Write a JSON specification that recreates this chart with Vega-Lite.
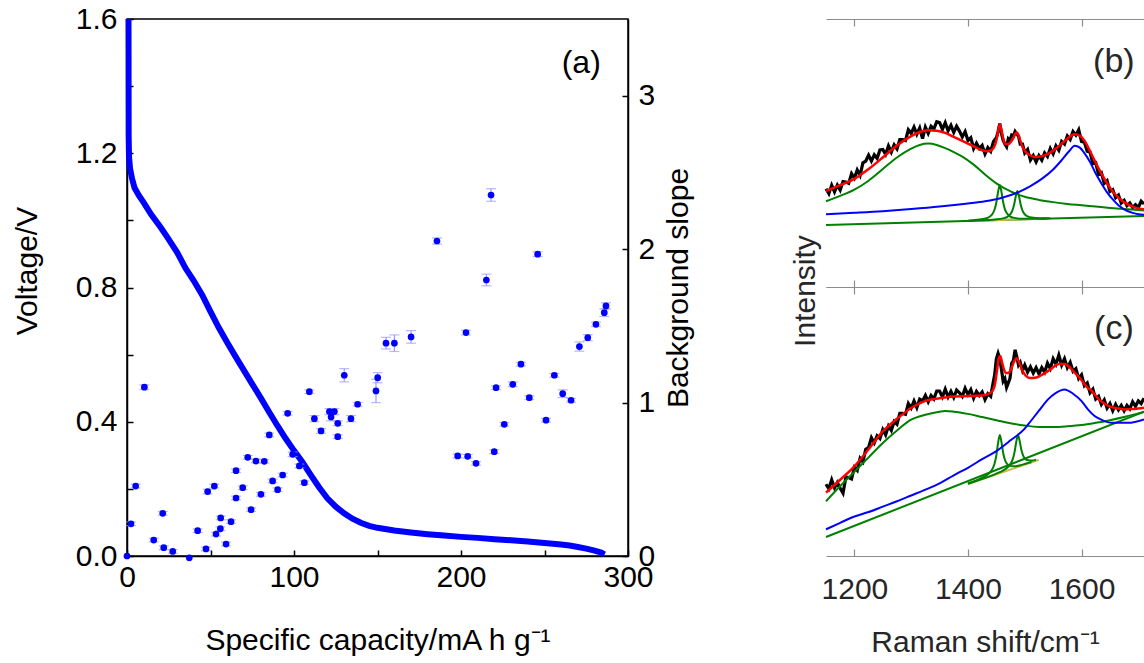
{
"$schema":"https://vega.github.io/schema/vega-lite/v6.json",
"padding":{"left":12,"top":3,"right":0,"bottom":5},
"bounds":"flush",
"spacing":198,
"datasets":{
"volt":[{"cap":0.9,"V":1.6},{"cap":1,"V":1.25},{"cap":1.2,"V":1.19},{"cap":1.8,"V":1.155},{"cap":3,"V":1.125},{"cap":4.5,"V":1.097},{"cap":7,"V":1.075},{"cap":10,"V":1.053},{"cap":14.4,"V":1.018},{"cap":20,"V":0.98},{"cap":24.4,"V":0.948},{"cap":30,"V":0.905},{"cap":35,"V":0.858},{"cap":40,"V":0.82},{"cap":45,"V":0.778},{"cap":50,"V":0.728},{"cap":55,"V":0.68},{"cap":60,"V":0.636},{"cap":65,"V":0.594},{"cap":70,"V":0.553},{"cap":75,"V":0.512},{"cap":80,"V":0.472},{"cap":85,"V":0.43},{"cap":90,"V":0.389},{"cap":95,"V":0.35},{"cap":100,"V":0.314},{"cap":105,"V":0.28},{"cap":110,"V":0.242},{"cap":115,"V":0.205},{"cap":120,"V":0.172},{"cap":125,"V":0.147},{"cap":130,"V":0.127},{"cap":135,"V":0.111},{"cap":140,"V":0.099},{"cap":145,"V":0.09},{"cap":150,"V":0.084},{"cap":160,"V":0.076},{"cap":170,"V":0.07},{"cap":180,"V":0.065},{"cap":190,"V":0.061},{"cap":200,"V":0.057},{"cap":210,"V":0.054},{"cap":220,"V":0.05},{"cap":230,"V":0.047},{"cap":240,"V":0.043},{"cap":250,"V":0.039},{"cap":260,"V":0.034},{"cap":265,"V":0.031},{"cap":270,"V":0.027},{"cap":275,"V":0.022},{"cap":280,"V":0.016},{"cap":284,"V":0.01},{"cap":286,"V":0.005}],
"slope":[{"cap":0,"s":0,"err":0},{"cap":2.4,"s":0.21,"err":0.012},{"cap":5.2,"s":0.456,"err":0.012},{"cap":10.4,"s":1.1,"err":0.015},{"cap":16,"s":0.104,"err":0.012},{"cap":21.4,"s":0.278,"err":0.012},{"cap":22,"s":0.054,"err":0.012},{"cap":27.4,"s":0.03,"err":0.012},{"cap":37.3,"s":-0.012,"err":0},{"cap":42.3,"s":0.165,"err":0.012},{"cap":47.3,"s":0.046,"err":0.012},{"cap":48.3,"s":0.42,"err":0.015},{"cap":52.3,"s":0.456,"err":0.012},{"cap":53.3,"s":0.143,"err":0.012},{"cap":55.9,"s":0.178,"err":0.012},{"cap":56.1,"s":0.248,"err":0.012},{"cap":59.3,"s":0.078,"err":0.012},{"cap":62.3,"s":0.224,"err":0.012},{"cap":65.3,"s":0.556,"err":0.012},{"cap":65.3,"s":0.378,"err":0.012},{"cap":69.3,"s":0.445,"err":0.012},{"cap":72.3,"s":0.643,"err":0.012},{"cap":74.3,"s":0.302,"err":0.012},{"cap":77.2,"s":0.619,"err":0.012},{"cap":80.2,"s":0.402,"err":0.012},{"cap":82.2,"s":0.617,"err":0.012},{"cap":85.2,"s":0.789,"err":0.012},{"cap":87.2,"s":0.489,"err":0.012},{"cap":90.2,"s":0.432,"err":0.012},{"cap":93.2,"s":0.528,"err":0.012},{"cap":96.2,"s":0.93,"err":0.012},{"cap":99.2,"s":0.663,"err":0.015},{"cap":103.2,"s":0.587,"err":0.012},{"cap":106.2,"s":0.478,"err":0.012},{"cap":109.2,"s":1.071,"err":0.012},{"cap":112.2,"s":0.895,"err":0.02},{"cap":116.2,"s":0.815,"err":0.015},{"cap":121.2,"s":0.941,"err":0.02},{"cap":122.2,"s":0.906,"err":0.025},{"cap":124.2,"s":0.941,"err":0.02},{"cap":126.2,"s":0.865,"err":0.015},{"cap":126.2,"s":0.778,"err":0.012},{"cap":130.1,"s":1.178,"err":0.043},{"cap":134.1,"s":0.895,"err":0.02},{"cap":138.1,"s":0.989,"err":0.012},{"cap":149.1,"s":1.076,"err":0.076},{"cap":150.1,"s":1.162,"err":0.033},{"cap":155.1,"s":1.387,"err":0.038},{"cap":160.1,"s":1.387,"err":0.054},{"cap":170.1,"s":1.428,"err":0.041},{"cap":185.6,"s":2.053,"err":0.02},{"cap":198,"s":0.652,"err":0.012},{"cap":203,"s":1.456,"err":0.015},{"cap":204,"s":0.65,"err":0.012},{"cap":209,"s":0.604,"err":0.012},{"cap":215.2,"s":1.799,"err":0.038},{"cap":218,"s":2.353,"err":0.041},{"cap":219.9,"s":0.68,"err":0.012},{"cap":221,"s":1.097,"err":0.012},{"cap":225.9,"s":0.858,"err":0.012},{"cap":231,"s":1.119,"err":0.015},{"cap":235.9,"s":1.25,"err":0.012},{"cap":240.9,"s":1.032,"err":0.012},{"cap":245.9,"s":1.967,"err":0.015},{"cap":250.9,"s":0.885,"err":0.012},{"cap":255.9,"s":1.178,"err":0.012},{"cap":260.9,"s":1.058,"err":0.025},{"cap":265.9,"s":1.015,"err":0.012},{"cap":270.9,"s":1.365,"err":0.03},{"cap":275.9,"s":1.423,"err":0.02},{"cap":280.8,"s":1.51,"err":0.015},{"cap":285.8,"s":1.586,"err":0.025},{"cap":286.8,"s":1.63,"err":0.02}],
"bData":[{"w":1150,"v":1.1},{"w":1155,"v":1.045},{"w":1160,"v":1.14},{"w":1165,"v":1.065},{"w":1170,"v":1.14},{"w":1175,"v":1.085},{"w":1180,"v":1.18},{"w":1185,"v":1.175},{"w":1190,"v":1.16},{"w":1195,"v":1.27},{"w":1200,"v":1.22},{"w":1205,"v":1.31},{"w":1210,"v":1.25},{"w":1215,"v":1.39},{"w":1220,"v":1.41},{"w":1225,"v":1.475},{"w":1230,"v":1.41},{"w":1235,"v":1.48},{"w":1240,"v":1.44},{"w":1245,"v":1.535},{"w":1250,"v":1.54},{"w":1255,"v":1.485},{"w":1260,"v":1.58},{"w":1265,"v":1.51},{"w":1270,"v":1.59},{"w":1275,"v":1.545},{"w":1280,"v":1.65},{"w":1285,"v":1.65},{"w":1290,"v":1.64},{"w":1295,"v":1.76},{"w":1300,"v":1.72},{"w":1305,"v":1.79},{"w":1310,"v":1.71},{"w":1315,"v":1.78},{"w":1320,"v":1.66},{"w":1325,"v":1.79},{"w":1330,"v":1.72},{"w":1335,"v":1.8},{"w":1340,"v":1.77},{"w":1345,"v":1.85},{"w":1350,"v":1.84},{"w":1355,"v":1.765},{"w":1360,"v":1.84},{"w":1365,"v":1.75},{"w":1370,"v":1.81},{"w":1375,"v":1.73},{"w":1380,"v":1.8},{"w":1385,"v":1.745},{"w":1390,"v":1.68},{"w":1395,"v":1.74},{"w":1400,"v":1.64},{"w":1405,"v":1.67},{"w":1410,"v":1.55},{"w":1415,"v":1.61},{"w":1420,"v":1.55},{"w":1425,"v":1.585},{"w":1430,"v":1.49},{"w":1435,"v":1.56},{"w":1440,"v":1.52},{"w":1445,"v":1.63},{"w":1450,"v":1.67},{"w":1453,"v":1.74},{"w":1456,"v":1.83},{"w":1459,"v":1.72},{"w":1462,"v":1.64},{"w":1465,"v":1.6},{"w":1468,"v":1.57},{"w":1471,"v":1.66},{"w":1474,"v":1.64},{"w":1477,"v":1.7},{"w":1480,"v":1.69},{"w":1483,"v":1.74},{"w":1486,"v":1.71},{"w":1489,"v":1.69},{"w":1492,"v":1.6},{"w":1496,"v":1.6},{"w":1500,"v":1.5},{"w":1505,"v":1.54},{"w":1510,"v":1.42},{"w":1515,"v":1.47},{"w":1520,"v":1.4},{"w":1525,"v":1.47},{"w":1530,"v":1.42},{"w":1535,"v":1.5},{"w":1540,"v":1.46},{"w":1545,"v":1.55},{"w":1550,"v":1.49},{"w":1555,"v":1.58},{"w":1560,"v":1.53},{"w":1565,"v":1.63},{"w":1570,"v":1.6},{"w":1575,"v":1.69},{"w":1580,"v":1.65},{"w":1585,"v":1.74},{"w":1590,"v":1.7},{"w":1595,"v":1.76},{"w":1600,"v":1.63},{"w":1605,"v":1.62},{"w":1610,"v":1.52},{"w":1615,"v":1.51},{"w":1620,"v":1.38},{"w":1625,"v":1.39},{"w":1630,"v":1.26},{"w":1635,"v":1.28},{"w":1640,"v":1.16},{"w":1645,"v":1.19},{"w":1650,"v":1.07},{"w":1655,"v":1.09},{"w":1660,"v":1.0},{"w":1665,"v":1.03},{"w":1670,"v":0.94},{"w":1675,"v":0.97},{"w":1680,"v":0.91},{"w":1685,"v":0.94},{"w":1690,"v":0.89},{"w":1695,"v":0.92},{"w":1700,"v":0.89},{"w":1705,"v":0.96},{"w":1710,"v":0.93}],
"bLin":[{"w":1150,"v":0.694},{"w":1710,"v":0.796}],
"bYel":[{"w":1410,"v":0.741},{"w":1530,"v":0.763}],
"bD":[{"w":1150,"v":0.96},{"w":1175,"v":1.02},{"w":1200,"v":1.09},{"w":1225,"v":1.19},{"w":1250,"v":1.32},{"w":1275,"v":1.45},{"w":1300,"v":1.55},{"w":1315,"v":1.59},{"w":1330,"v":1.605},{"w":1345,"v":1.59},{"w":1360,"v":1.555},{"w":1375,"v":1.51},{"w":1390,"v":1.46},{"w":1410,"v":1.37},{"w":1430,"v":1.26},{"w":1450,"v":1.16},{"w":1475,"v":1.07},{"w":1500,"v":1.01},{"w":1525,"v":0.975},{"w":1550,"v":0.95},{"w":1575,"v":0.93},{"w":1600,"v":0.915},{"w":1625,"v":0.9},{"w":1650,"v":0.885},{"w":1675,"v":0.872},{"w":1700,"v":0.861},{"w":1710,"v":0.857}],
"bP":[{"s":"p1","w":1400,"v":0.741},{"s":"p1","w":1416,"v":0.752},{"s":"p1","w":1431,"v":0.767},{"s":"p1","w":1438,"v":0.786},{"s":"p1","w":1444,"v":0.827},{"s":"p1","w":1447,"v":0.87},{"s":"p1","w":1450,"v":0.946},{"s":"p1","w":1453,"v":1.063},{"s":"p1","w":1456,"v":1.143},{"s":"p1","w":1459,"v":1.064},{"s":"p1","w":1462,"v":0.948},{"s":"p1","w":1465,"v":0.872},{"s":"p1","w":1468,"v":0.83},{"s":"p1","w":1474,"v":0.791},{"s":"p1","w":1481,"v":0.774},{"s":"p1","w":1496,"v":0.764},{"s":"p1","w":1526,"v":0.765},{"s":"p1","w":1540,"v":0.768},{"s":"p2","w":1400,"v":0.74},{"s":"p2","w":1417,"v":0.745},{"s":"p2","w":1447,"v":0.756},{"s":"p2","w":1462,"v":0.768},{"s":"p2","w":1469,"v":0.785},{"s":"p2","w":1475,"v":0.818},{"s":"p2","w":1478,"v":0.853},{"s":"p2","w":1481,"v":0.914},{"s":"p2","w":1484,"v":1.011},{"s":"p2","w":1487,"v":1.075},{"s":"p2","w":1490,"v":1.012},{"s":"p2","w":1493,"v":0.917},{"s":"p2","w":1496,"v":0.856},{"s":"p2","w":1499,"v":0.822},{"s":"p2","w":1505,"v":0.791},{"s":"p2","w":1512,"v":0.777},{"s":"p2","w":1527,"v":0.77},{"s":"p2","w":1545,"v":0.77}],
"bG":[{"w":1150,"v":0.814},{"w":1200,"v":0.83},{"w":1250,"v":0.848},{"w":1300,"v":0.872},{"w":1350,"v":0.9},{"w":1400,"v":0.935},{"w":1430,"v":0.96},{"w":1460,"v":1.0},{"w":1490,"v":1.065},{"w":1510,"v":1.13},{"w":1530,"v":1.21},{"w":1550,"v":1.315},{"w":1565,"v":1.42},{"w":1578,"v":1.52},{"w":1588,"v":1.58},{"w":1597,"v":1.56},{"w":1606,"v":1.49},{"w":1615,"v":1.4},{"w":1625,"v":1.27},{"w":1635,"v":1.16},{"w":1645,"v":1.06},{"w":1655,"v":0.98},{"w":1665,"v":0.915},{"w":1675,"v":0.87},{"w":1690,"v":0.83},{"w":1700,"v":0.815},{"w":1710,"v":0.81}],
"bFit":[{"w":1150,"v":1.075},{"w":1175,"v":1.14},{"w":1200,"v":1.21},{"w":1225,"v":1.32},{"w":1250,"v":1.45},{"w":1275,"v":1.585},{"w":1300,"v":1.69},{"w":1315,"v":1.735},{"w":1330,"v":1.755},{"w":1345,"v":1.75},{"w":1360,"v":1.725},{"w":1375,"v":1.68},{"w":1390,"v":1.635},{"w":1410,"v":1.575},{"w":1425,"v":1.53},{"w":1435,"v":1.52},{"w":1442,"v":1.535},{"w":1447,"v":1.58},{"w":1450,"v":1.64},{"w":1453,"v":1.74},{"w":1456,"v":1.82},{"w":1459,"v":1.76},{"w":1462,"v":1.66},{"w":1466,"v":1.6},{"w":1471,"v":1.6},{"w":1476,"v":1.63},{"w":1480,"v":1.67},{"w":1483,"v":1.71},{"w":1486,"v":1.73},{"w":1489,"v":1.7},{"w":1492,"v":1.64},{"w":1496,"v":1.57},{"w":1500,"v":1.525},{"w":1508,"v":1.48},{"w":1518,"v":1.456},{"w":1530,"v":1.465},{"w":1545,"v":1.505},{"w":1560,"v":1.575},{"w":1575,"v":1.66},{"w":1588,"v":1.71},{"w":1598,"v":1.69},{"w":1606,"v":1.63},{"w":1615,"v":1.52},{"w":1625,"v":1.39},{"w":1635,"v":1.27},{"w":1645,"v":1.16},{"w":1655,"v":1.07},{"w":1665,"v":1.0},{"w":1675,"v":0.95},{"w":1690,"v":0.9},{"w":1700,"v":0.88},{"w":1710,"v":0.87}],
"cData":[{"w":1150,"v":0.8},{"w":1155,"v":0.75},{"w":1160,"v":0.85},{"w":1165,"v":0.76},{"w":1170,"v":0.82},{"w":1175,"v":0.755},{"w":1180,"v":0.7},{"w":1185,"v":0.88},{"w":1190,"v":0.875},{"w":1195,"v":0.86},{"w":1200,"v":0.99},{"w":1205,"v":0.955},{"w":1210,"v":1.09},{"w":1215,"v":1.05},{"w":1220,"v":1.19},{"w":1225,"v":1.21},{"w":1230,"v":1.32},{"w":1235,"v":1.26},{"w":1240,"v":1.34},{"w":1245,"v":1.31},{"w":1250,"v":1.41},{"w":1255,"v":1.35},{"w":1260,"v":1.45},{"w":1265,"v":1.4},{"w":1270,"v":1.5},{"w":1275,"v":1.47},{"w":1280,"v":1.59},{"w":1285,"v":1.59},{"w":1290,"v":1.58},{"w":1295,"v":1.7},{"w":1300,"v":1.65},{"w":1305,"v":1.73},{"w":1310,"v":1.655},{"w":1315,"v":1.75},{"w":1320,"v":1.73},{"w":1325,"v":1.79},{"w":1330,"v":1.72},{"w":1335,"v":1.79},{"w":1340,"v":1.75},{"w":1345,"v":1.84},{"w":1350,"v":1.84},{"w":1355,"v":1.775},{"w":1360,"v":1.86},{"w":1365,"v":1.773},{"w":1370,"v":1.835},{"w":1375,"v":1.768},{"w":1380,"v":1.85},{"w":1385,"v":1.82},{"w":1390,"v":1.78},{"w":1395,"v":1.87},{"w":1400,"v":1.8},{"w":1405,"v":1.855},{"w":1410,"v":1.76},{"w":1415,"v":1.835},{"w":1420,"v":1.79},{"w":1425,"v":1.83},{"w":1430,"v":1.744},{"w":1435,"v":1.81},{"w":1440,"v":1.78},{"w":1444,"v":1.92},{"w":1447,"v":2.02},{"w":1450,"v":2.2},{"w":1453,"v":2.26},{"w":1456,"v":2.2},{"w":1459,"v":2.08},{"w":1462,"v":1.95},{"w":1465,"v":1.98},{"w":1468,"v":1.88},{"w":1471,"v":1.93},{"w":1474,"v":1.98},{"w":1477,"v":2.15},{"w":1480,"v":2.18},{"w":1483,"v":2.3},{"w":1486,"v":2.22},{"w":1489,"v":2.13},{"w":1492,"v":2.16},{"w":1496,"v":2.07},{"w":1500,"v":2.13},{"w":1505,"v":2.05},{"w":1510,"v":2.11},{"w":1515,"v":2.04},{"w":1520,"v":2.1},{"w":1525,"v":2.03},{"w":1530,"v":2.1},{"w":1535,"v":2.05},{"w":1540,"v":2.15},{"w":1545,"v":2.09},{"w":1550,"v":2.2},{"w":1555,"v":2.14},{"w":1560,"v":2.24},{"w":1565,"v":2.13},{"w":1570,"v":2.2},{"w":1575,"v":2.1},{"w":1580,"v":2.16},{"w":1585,"v":2.06},{"w":1590,"v":2.09},{"w":1595,"v":1.98},{"w":1600,"v":2.02},{"w":1605,"v":1.9},{"w":1610,"v":1.93},{"w":1615,"v":1.82},{"w":1620,"v":1.86},{"w":1625,"v":1.75},{"w":1630,"v":1.78},{"w":1635,"v":1.69},{"w":1640,"v":1.74},{"w":1645,"v":1.65},{"w":1650,"v":1.7},{"w":1655,"v":1.62},{"w":1660,"v":1.69},{"w":1665,"v":1.63},{"w":1670,"v":1.68},{"w":1675,"v":1.62},{"w":1680,"v":1.68},{"w":1685,"v":1.64},{"w":1690,"v":1.72},{"w":1695,"v":1.67},{"w":1700,"v":1.73},{"w":1705,"v":1.7},{"w":1710,"v":1.76}],
"cLin":[{"w":1150,"v":0.212},{"w":1710,"v":1.609}],
"cYel":[{"w":1400,"v":0.803},{"w":1525,"v":1.072}],
"cD":[{"w":1150,"v":0.61},{"w":1175,"v":0.78},{"w":1200,"v":0.94},{"w":1225,"v":1.1},{"w":1250,"v":1.26},{"w":1275,"v":1.4},{"w":1300,"v":1.52},{"w":1325,"v":1.575},{"w":1350,"v":1.61},{"w":1360,"v":1.617},{"w":1375,"v":1.61},{"w":1400,"v":1.585},{"w":1425,"v":1.55},{"w":1450,"v":1.515},{"w":1475,"v":1.48},{"w":1500,"v":1.455},{"w":1525,"v":1.44},{"w":1550,"v":1.438},{"w":1575,"v":1.446},{"w":1600,"v":1.46},{"w":1625,"v":1.485},{"w":1650,"v":1.515},{"w":1675,"v":1.55},{"w":1700,"v":1.59},{"w":1710,"v":1.605}],
"cP":[{"s":"p1","w":1400,"v":0.808},{"s":"p1","w":1416,"v":0.846},{"s":"p1","w":1431,"v":0.893},{"s":"p1","w":1438,"v":0.928},{"s":"p1","w":1444,"v":0.983},{"s":"p1","w":1447,"v":1.035},{"s":"p1","w":1450,"v":1.124},{"s":"p1","w":1453,"v":1.257},{"s":"p1","w":1456,"v":1.349},{"s":"p1","w":1459,"v":1.27},{"s":"p1","w":1462,"v":1.149},{"s":"p1","w":1465,"v":1.074},{"s":"p1","w":1468,"v":1.034},{"s":"p1","w":1474,"v":1.005},{"s":"p1","w":1481,"v":1.0},{"s":"p1","w":1496,"v":1.019},{"s":"p1","w":1512,"v":1.048},{"s":"p2","w":1400,"v":0.805},{"s":"p2","w":1418,"v":0.845},{"s":"p2","w":1448,"v":0.914},{"s":"p2","w":1463,"v":0.958},{"s":"p2","w":1470,"v":0.99},{"s":"p2","w":1476,"v":1.038},{"s":"p2","w":1479,"v":1.083},{"s":"p2","w":1482,"v":1.159},{"s":"p2","w":1485,"v":1.272},{"s":"p2","w":1488,"v":1.349},{"s":"p2","w":1491,"v":1.285},{"s":"p2","w":1494,"v":1.184},{"s":"p2","w":1497,"v":1.122},{"s":"p2","w":1500,"v":1.089},{"s":"p2","w":1506,"v":1.067},{"s":"p2","w":1513,"v":1.065},{"s":"p2","w":1520,"v":1.075}],
"cG":[{"w":1150,"v":0.297},{"w":1175,"v":0.37},{"w":1200,"v":0.44},{"w":1225,"v":0.49},{"w":1250,"v":0.55},{"w":1275,"v":0.61},{"w":1300,"v":0.675},{"w":1325,"v":0.74},{"w":1350,"v":0.81},{"w":1375,"v":0.9},{"w":1400,"v":0.984},{"w":1425,"v":1.08},{"w":1450,"v":1.17},{"w":1475,"v":1.29},{"w":1500,"v":1.42},{"w":1510,"v":1.5},{"w":1525,"v":1.62},{"w":1541,"v":1.747},{"w":1555,"v":1.82},{"w":1570,"v":1.858},{"w":1585,"v":1.81},{"w":1600,"v":1.728},{"w":1612,"v":1.63},{"w":1623,"v":1.561},{"w":1635,"v":1.52},{"w":1653,"v":1.486},{"w":1682,"v":1.486},{"w":1710,"v":1.524}],
"cFit":[{"w":1150,"v":0.706},{"w":1175,"v":0.85},{"w":1200,"v":1.0},{"w":1225,"v":1.19},{"w":1250,"v":1.39},{"w":1275,"v":1.53},{"w":1300,"v":1.65},{"w":1325,"v":1.73},{"w":1350,"v":1.76},{"w":1375,"v":1.78},{"w":1400,"v":1.784},{"w":1425,"v":1.79},{"w":1440,"v":1.82},{"w":1447,"v":1.9},{"w":1451,"v":2.06},{"w":1454,"v":2.2},{"w":1457,"v":2.23},{"w":1460,"v":2.16},{"w":1464,"v":2.07},{"w":1468,"v":2.04},{"w":1472,"v":2.045},{"w":1477,"v":2.1},{"w":1482,"v":2.18},{"w":1486,"v":2.205},{"w":1490,"v":2.16},{"w":1495,"v":2.08},{"w":1502,"v":2.01},{"w":1510,"v":1.985},{"w":1518,"v":1.988},{"w":1530,"v":2.02},{"w":1545,"v":2.08},{"w":1560,"v":2.14},{"w":1570,"v":2.14},{"w":1580,"v":2.1},{"w":1588,"v":2.044},{"w":1600,"v":1.96},{"w":1610,"v":1.88},{"w":1618,"v":1.84},{"w":1630,"v":1.75},{"w":1640,"v":1.7},{"w":1650,"v":1.665},{"w":1665,"v":1.645},{"w":1676,"v":1.635},{"w":1690,"v":1.64},{"w":1700,"v":1.645},{"w":1710,"v":1.653}]
},
"hconcat":[
{
"width":501,"height":537,
"view":{"stroke":"#000000","strokeWidth":1.5},
"layer":[
{"data":{"name":"volt"},"mark":{"type":"line","color":"#0000ff","strokeWidth":6},
"encoding":{
"x":{"field":"cap","type":"quantitative","scale":{"domain":[0,300],"nice":false},
"axis":{"orient":"bottom","values":[0,50,100,150,200,250,300],"labelExpr":"datum.value % 100 === 0 ? datum.label : ''","tickSize":-6,"labelPadding":12,"title":"Specific capacity/mA h g⁻¹","titlePadding":33,"domainWidth":1.5,"tickWidth":1.5}},
"y":{"field":"V","type":"quantitative","scale":{"domain":[0,1.6],"nice":false},
"axis":{"orient":"left","values":[0,0.2,0.4,0.6,0.8,1,1.2,1.4,1.6],"format":".1f","labelExpr":"round(datum.value*10) % 4 === 0 ? datum.label : ''","tickSize":-6,"labelPadding":16,"title":null,"domainWidth":1.5,"tickWidth":1.5}}}},
{"data":{"name":"slope"},"transform":[{"filter":"datum.err > 0"}],"mark":{"type":"errorbar","ticks":true,"size":10,"thickness":1.2,"color":"#9a9aff"},
"encoding":{"x":{"field":"cap","type":"quantitative","scale":{"domain":[0,300],"nice":false},
"axis":{"orient":"bottom","values":[0,50,100,150,200,250,300],"labelExpr":"datum.value % 100 === 0 ? datum.label : ''","tickSize":-6,"labelPadding":12,"title":"Specific capacity/mA h g⁻¹","titlePadding":33,"domainWidth":1.5,"tickWidth":1.5}},
"y":{"field":"s","type":"quantitative","scale":{"domain":[0,3.5],"nice":false},"axis":null},"yError":{"field":"err"}}},
{"data":{"name":"slope"},"mark":{"type":"circle","size":45,"color":"#0000ff","opacity":1},
"encoding":{"x":{"field":"cap","type":"quantitative","scale":{"domain":[0,300],"nice":false},
"axis":{"orient":"bottom","values":[0,50,100,150,200,250,300],"labelExpr":"datum.value % 100 === 0 ? datum.label : ''","tickSize":-6,"labelPadding":12,"title":"Specific capacity/mA h g⁻¹","titlePadding":33,"domainWidth":1.5,"tickWidth":1.5}},
"y":{"field":"s","type":"quantitative","scale":{"domain":[0,3.5],"nice":false},
"axis":{"orient":"right","values":[0,0.5,1,1.5,2,2.5,3],"format":"d","labelExpr":"datum.value % 1 === 0 ? datum.label : ''","tickSize":-6,"labelPadding":16,"title":"Background slope","titleAngle":270,"titleBaseline":"top","titlePadding":9,"domainWidth":1.5,"tickWidth":1.5}}}},
{"data":{"values":[{"label":"(a)"}]},"mark":{"type":"text","fontSize":32,"font":"Liberation Sans","color":"#000000"},
"encoding":{"text":{"field":"label"},"x":{"datum":272,"type":"quantitative","scale":{"domain":[0,300],"nice":false},
"axis":{"orient":"bottom","values":[0,50,100,150,200,250,300],"labelExpr":"datum.value % 100 === 0 ? datum.label : ''","tickSize":-6,"labelPadding":12,"title":"Specific capacity/mA h g⁻¹","titlePadding":33,"domainWidth":1.5,"tickWidth":1.5}},
"y":{"datum":1.469,"type":"quantitative","scale":{"domain":[0,1.6],"nice":false},"axis":null}}},
{"data":{"values":[{"label":"Voltage/V"}]},"mark":{"type":"text","fontSize":30,"font":"Liberation Sans","color":"#000000","angle":270,"baseline":"middle","align":"center"},
"encoding":{"text":{"field":"label"},"x":{"datum":-59.3,"type":"quantitative","scale":{"domain":[0,300],"nice":false},
"axis":{"orient":"bottom","values":[0,50,100,150,200,250,300],"labelExpr":"datum.value % 100 === 0 ? datum.label : ''","tickSize":-6,"labelPadding":12,"title":"Specific capacity/mA h g⁻¹","titlePadding":33,"domainWidth":1.5,"tickWidth":1.5}},
"y":{"datum":0.849,"type":"quantitative","scale":{"domain":[0,1.6],"nice":false},"axis":null}}}
],
"resolve":{"scale":{"y":"independent"}}
},
{
"spacing":0,
"bounds":"flush",
"vconcat":[
{
"width":318,"height":268,
"view":{"stroke":null},
"layer":[
{"data":{"name":"bData"},"mark":{"type":"line","color":"#000000","strokeWidth":3.2},
"encoding":{"x":{"field":"w","type":"quantitative","scale":{"domain":[1150,1710],"nice":false},"axis":{"orient":"bottom","values":[1200,1400,1600],"labels":false,"tickSize":-7,"title":null,"domainColor":"#8c8c8c","tickColor":"#8c8c8c","domainWidth":1.2,"tickWidth":1.2}},
"y":{"field":"v","type":"quantitative","scale":{"domain":[0,3],"nice":false},"axis":{"orient":"left","values":[0.5,1.5,2.5],"labels":false,"tickSize":-7,"title":null,"domainColor":"#8c8c8c","tickColor":"#8c8c8c","domainWidth":1.2,"tickWidth":1.2}}}},
{"data":{"name":"bLin"},"mark":{"type":"line","color":"#008000","strokeWidth":2},
"encoding":{"x":{"field":"w","type":"quantitative","scale":{"domain":[1150,1710],"nice":false},"axis":{"orient":"top","values":[1200,1400,1600],"labels":false,"tickSize":-7,"title":null,"domainColor":"#8c8c8c","tickColor":"#8c8c8c","domainWidth":1.2,"tickWidth":1.2}},"y":{"field":"v","type":"quantitative","scale":{"domain":[0,3],"nice":false},"axis":null}}},
{"data":{"name":"bYel"},"mark":{"type":"line","color":"#cdb84a","strokeWidth":2},
"encoding":{"x":{"field":"w","type":"quantitative","axis":null},"y":{"field":"v","type":"quantitative","axis":null}}},
{"data":{"name":"bD"},"mark":{"type":"line","color":"#008000","strokeWidth":2,"interpolate":"monotone"},
"encoding":{"x":{"field":"w","type":"quantitative","axis":null},"y":{"field":"v","type":"quantitative","axis":null}}},
{"data":{"name":"bP"},"mark":{"type":"line","color":"#008000","strokeWidth":2,"interpolate":"monotone"},
"encoding":{"detail":{"field":"s"},"x":{"field":"w","type":"quantitative","axis":null},"y":{"field":"v","type":"quantitative","axis":null}}},
{"data":{"name":"bG"},"mark":{"type":"line","color":"#0000ff","strokeWidth":2,"interpolate":"monotone"},
"encoding":{"x":{"field":"w","type":"quantitative","axis":null},"y":{"field":"v","type":"quantitative","axis":null}}},
{"data":{"name":"bFit"},"mark":{"type":"line","color":"#ff0000","strokeWidth":2.5,"interpolate":"monotone"},
"encoding":{"x":{"field":"w","type":"quantitative","axis":null},"y":{"field":"v","type":"quantitative","axis":null}}},
{"data":{"values":[{"label":"(b)"}]},"mark":{"type":"text","fontSize":34,"font":"Liberation Sans","color":"#262626"},
"encoding":{"text":{"field":"label"},"x":{"datum":1657,"type":"quantitative","axis":null},"y":{"datum":2.52,"type":"quantitative","axis":null}}},
{"data":{"values":[{"label":"Intensity"}]},"mark":{"type":"text","fontSize":30,"font":"Liberation Sans","color":"#262626","angle":270,"baseline":"middle","align":"center"},
"encoding":{"text":{"field":"label"},"x":{"datum":1114,"type":"quantitative","axis":null},"y":{"datum":-0.045,"type":"quantitative","axis":null}}}
],
"resolve":{"axis":{"x":"independent"}}
},
{
"width":318,"height":269,
"view":{"stroke":null},
"layer":[
{"data":{"name":"cData"},"mark":{"type":"line","color":"#000000","strokeWidth":3.2},
"encoding":{"x":{"field":"w","type":"quantitative","scale":{"domain":[1150,1710],"nice":false},"axis":{"orient":"bottom","values":[1200,1400,1600],"format":"d","tickSize":-7,"labelPadding":25,"labelColor":"#262626","title":"Raman shift/cm⁻¹","titlePadding":23,"titleColor":"#262626","domainColor":"#8c8c8c","tickColor":"#8c8c8c","domainWidth":1.2,"tickWidth":1.2}},
"y":{"field":"v","type":"quantitative","scale":{"domain":[0,3],"nice":false},"axis":{"orient":"left","values":[1,2],"labels":false,"tickSize":-7,"title":null,"domainColor":"#8c8c8c","tickColor":"#8c8c8c","domainWidth":1.2,"tickWidth":1.2}}}},
{"data":{"name":"cLin"},"mark":{"type":"line","color":"#008000","strokeWidth":2},
"encoding":{"x":{"field":"w","type":"quantitative","scale":{"domain":[1150,1710],"nice":false},"axis":{"orient":"top","values":[1200,1400,1600],"labels":false,"tickSize":-7,"title":null,"domainColor":"#8c8c8c","tickColor":"#8c8c8c","domainWidth":1.2,"tickWidth":1.2}},"y":{"field":"v","type":"quantitative","scale":{"domain":[0,3],"nice":false},"axis":null}}},
{"data":{"name":"cYel"},"mark":{"type":"line","color":"#cdb84a","strokeWidth":2},
"encoding":{"x":{"field":"w","type":"quantitative","axis":null},"y":{"field":"v","type":"quantitative","axis":null}}},
{"data":{"name":"cD"},"mark":{"type":"line","color":"#008000","strokeWidth":2,"interpolate":"monotone"},
"encoding":{"x":{"field":"w","type":"quantitative","axis":null},"y":{"field":"v","type":"quantitative","axis":null}}},
{"data":{"name":"cP"},"mark":{"type":"line","color":"#008000","strokeWidth":2,"interpolate":"monotone"},
"encoding":{"detail":{"field":"s"},"x":{"field":"w","type":"quantitative","axis":null},"y":{"field":"v","type":"quantitative","axis":null}}},
{"data":{"name":"cG"},"mark":{"type":"line","color":"#0000ff","strokeWidth":2,"interpolate":"monotone"},
"encoding":{"x":{"field":"w","type":"quantitative","axis":null},"y":{"field":"v","type":"quantitative","axis":null}}},
{"data":{"name":"cFit"},"mark":{"type":"line","color":"#ff0000","strokeWidth":2.5,"interpolate":"monotone"},
"encoding":{"x":{"field":"w","type":"quantitative","axis":null},"y":{"field":"v","type":"quantitative","axis":null}}},
{"data":{"values":[{"label":"(c)"}]},"mark":{"type":"text","fontSize":34,"font":"Liberation Sans","color":"#262626"},
"encoding":{"text":{"field":"label"},"x":{"datum":1657,"type":"quantitative","axis":null},"y":{"datum":2.53,"type":"quantitative","axis":null}}}
],
"resolve":{"axis":{"x":"independent"}}
}
]
}
],
"config":{
"view":{"stroke":null},
"axis":{"labelFont":"Liberation Sans","titleFont":"Liberation Sans","labelFontSize":30,"titleFontSize":30,"titleFontWeight":"normal","labelColor":"#000000","titleColor":"#000000","domainColor":"#000000","tickColor":"#000000","grid":false,"labelFlush":false,"labelOverlap":false,"labelBound":false},
"text":{"font":"Liberation Sans"}
}
}
